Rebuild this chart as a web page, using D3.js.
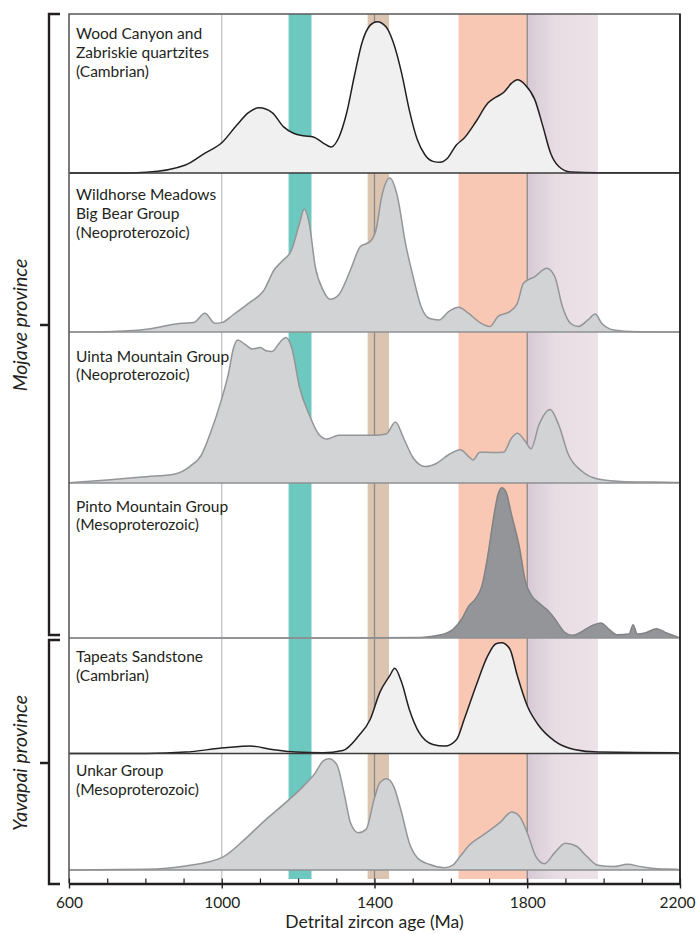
<!DOCTYPE html>
<html>
<head>
<meta charset="utf-8">
<script src="https://cdn.jsdelivr.net/npm/d3@7"></script>
<style>
  body { margin: 0; background: #fff; }
  svg text { font-family: Lato, "Open Sans", sans-serif; fill: #231f20; }
</style>
</head>
<body>
<div id="chart"></div>
<script>
// age axis ticks (Ma)
const majorTicks = [600, 1000, 1400, 1800, 2200];
const minorTicks = [600, 700, 800, 900, 1000, 1100, 1200, 1300, 1400, 1500, 1600, 1700, 1800, 1900, 2000, 2100, 2200];

// shaded age ranges (Ma)
const bandAges = [[1175, 1235], [1382, 1438], [1620, 1800], [1800, 1985]];
const refLines = [1000, 1400, 1800];

const panelLabels = [
  ["Wood Canyon and", "Zabriskie quartzites", "(Cambrian)"],
  ["Wildhorse Meadows", "Big Bear Group", "(Neoproterozoic)"],
  ["Uinta Mountain Group", "(Neoproterozoic)"],
  ["Pinto Mountain Group", "(Mesoproterozoic)"],
  ["Tapeats Sandstone", "(Cambrian)"],
  ["Unkar Group", "(Mesoproterozoic)"]
];

const provinces = ["Mojave province", "Yavapai province"];

// relative probability, [age Ma, value 0-100]
const woodCanyon = [[600,0],[750,0],[803,0.4],[905,5],[956,12.5],[1000,19],[1039,30],[1070,38],[1098,41],[1132,38],[1162,29],[1188,25],[1214,23.4],[1240,22.6],[1265,19],[1286,16.3],[1306,22],[1327,37.7],[1347,60.7],[1368,82.6],[1389,93],[1407,95.2],[1430,92],[1450,81.6],[1471,62.8],[1491,39.7],[1512,21],[1532,11.5],[1553,7.3],[1572,6.7],[1589,8.8],[1615,17.8],[1635,22],[1666,32.4],[1697,44],[1718,47.7],[1738,50.6],[1759,56.5],[1774,58.6],[1795,55.4],[1820,46],[1841,29.3],[1861,12.6],[1882,4.2],[1913,0.6],[1985,0.2],[2190,0.2],[2200,0]];

const wildhorse = [[600,0],[700,0.2],[803,1.7],[864,4.4],[895,5.5],[926,5.9],[956,11.8],[982,5.5],[1000,5.9],[1029,10.7],[1070,18],[1111,26.5],[1137,39],[1157,44.3],[1183,51.7],[1204,68.5],[1216,77.3],[1229,68.5],[1245,41],[1265,26.5],[1284,20.6],[1306,23.3],[1337,39],[1363,53.8],[1389,57],[1404,64.3],[1419,85.3],[1440,96.8],[1460,85.3],[1481,55.9],[1501,34.9],[1522,16],[1543,8.6],[1569,7.6],[1594,12.8],[1620,15.5],[1646,11.8],[1676,5.9],[1702,3.4],[1723,9.7],[1754,12.8],[1774,18],[1790,30.7],[1820,34.9],[1851,40.1],[1872,34.9],[1892,16],[1913,5.5],[1933,3.4],[1959,7.6],[1978,11.3],[1995,5.5],[2026,1.3],[2088,0.2],[2200,0]];

const uinta = [[600,0.2],[700,2],[803,4.2],[875,5.8],[916,10.9],[947,18.7],[972,34.2],[998,54.2],[1019,74.2],[1029,87.6],[1042,94.7],[1060,92],[1080,88.7],[1101,89.8],[1116,87.6],[1132,87.1],[1152,93.1],[1168,96.4],[1183,89.8],[1204,63.1],[1229,45.3],[1255,32],[1276,29.1],[1306,31.6],[1347,31.6],[1399,31.6],[1430,32.4],[1455,40.4],[1476,29.8],[1502,16.4],[1533,10.9],[1563,13.1],[1594,18.7],[1625,22],[1646,17.6],[1658,15.3],[1676,20.4],[1707,20.2],[1738,20.4],[1759,29.8],[1774,32.9],[1795,27.6],[1810,22.7],[1831,38.7],[1860,48.7],[1882,38.7],[1908,18.7],[1944,7.6],[1985,2.7],[2057,0.9],[2191,0.4],[2200,0.3]];

const pinto = [[600,0],[1317,0],[1522,0.4],[1574,2.1],[1605,5.4],[1630,12.9],[1646,20.4],[1666,25.8],[1682,34.3],[1697,53.6],[1713,79.4],[1723,92.3],[1733,97],[1744,94.4],[1759,79.4],[1780,57.9],[1795,36.5],[1810,27.9],[1831,22.5],[1856,17.2],[1877,10.7],[1897,3.9],[1918,1.7],[1944,4.3],[1969,7.9],[1993,9.7],[2015,5.4],[2036,2.1],[2067,2.6],[2077,8.6],[2088,2.6],[2108,3.2],[2139,6],[2165,3.2],[2196,0.4],[2200,0]];

const tapeats = [[600,0],[803,0],[905,1.2],[1008,4.9],[1075,6.4],[1132,3.5],[1193,1.2],[1265,0.6],[1317,2.6],[1358,15.1],[1389,29.7],[1414,52.9],[1440,67.4],[1453,73.8],[1471,61.6],[1491,38.4],[1517,18],[1553,7.8],[1584,6.4],[1615,12.2],[1635,29.7],[1666,58.7],[1697,84.9],[1718,95],[1733,95.9],[1754,90.7],[1774,67.4],[1800,41.3],[1831,23.8],[1872,10.8],[1923,3.5],[1985,1.2],[2190,0.6],[2200,0]];

const unkar = [[600,0],[803,0.6],[905,3.4],[1000,10.6],[1060,26.3],[1111,42],[1162,56.3],[1214,72],[1245,83.4],[1265,93.4],[1281,95.4],[1301,90.6],[1322,63.4],[1337,40.6],[1358,32],[1378,34.9],[1399,60.6],[1414,74.9],[1432,78.3],[1450,72],[1471,49.1],[1491,23.4],[1512,10.6],[1543,4.9],[1584,2],[1604,4],[1625,12],[1646,20.6],[1687,30.6],[1728,40.6],[1759,49.7],[1779,46.3],[1800,32],[1822,12],[1845,5.4],[1872,14.9],[1900,22.9],[1928,20.6],[1955,12],[1985,4],[2026,2.9],[2062,4.9],[2098,2.9],[2139,1.1],[2190,0.6],[2200,0]];

const densities = [woodCanyon, wildhorse, uinta, pinto, tapeats, unkar];

// ---- layout ----
const W = 697, H = 934;
const plotLeft = 69, plotRight = 680, plotTop = 14, axisY = 883.5;
const panelEdges = [14, 173, 332, 483, 638, 753.5, 870];
const labelOffsets = [25.3, 27, 29.5, 28.5, 24, 22.5];
const lineGap = 18.8;

const fills   = ["#f0f0f0", "#d1d3d4", "#d1d3d4", "#939598", "#f0f0f0", "#d1d3d4"];
const strokes = ["#231f20", "#939598", "#939598", "#808285", "#231f20", "#939598"];
const bandColors = ["#6dc8c0", "#dcc5b0", "#f9c8b4", "url(#lavender)"];

const svg = d3.select("#chart").append("svg")
  .attr("width", W)
  .attr("height", H);

const defs = svg.append("defs");
const grad = defs.append("linearGradient")
  .attr("id", "lavender")
  .attr("x1", 0).attr("x2", 1).attr("y1", 0).attr("y2", 0);
grad.append("stop").attr("offset", 0).attr("stop-color", "#d6c9d5");
grad.append("stop").attr("offset", 0.4).attr("stop-color", "#e8dde3");
grad.append("stop").attr("offset", 1).attr("stop-color", "#ece2e7");

const x = d3.scaleLinear().domain([600, 2200]).range([plotLeft, plotRight]);

// bands
svg.append("g").selectAll("rect")
  .data(bandAges)
  .enter().append("rect")
  .attr("x", d => x(d[0]))
  .attr("y", plotTop)
  .attr("width", d => x(d[1]) - x(d[0]))
  .attr("height", 879 - plotTop)
  .attr("fill", (d, i) => bandColors[i]);

// reference lines
svg.append("g").selectAll("line")
  .data(refLines)
  .enter().append("line")
  .attr("x1", d => x(d)).attr("x2", d => x(d))
  .attr("y1", plotTop).attr("y2", axisY)
  .attr("stroke", (d, i) => ["#bcbec0", "#8a8a8a", "#8a8a8a"][i])
  .attr("stroke-width", (d, i) => i == 0 ? 1.2 : 1.3);

// panels
densities.forEach(function (data, i) {
  const y0 = panelEdges[i + 1], y1 = panelEdges[i];
  const y = d3.scaleLinear().domain([0, 100]).range([y0, y1]);

  const area = d3.area()
    .x(d => x(d[0]))
    .y0(y0)
    .y1(d => y(d[1]))
    .curve(d3.curveMonotoneX);
  const line = d3.line()
    .x(d => x(d[0]))
    .y(d => y(d[1]))
    .curve(d3.curveMonotoneX);

  const g = svg.append("g").attr("class", "panel");
  g.append("path")
    .attr("d", area(data))
    .attr("fill", fills[i]);
  g.append("path")
    .attr("d", line(data))
    .attr("fill", "none")
    .attr("stroke", strokes[i])
    .attr("stroke-width", 1.5)
    .attr("stroke-linejoin", "round");

  // baseline
  g.append("line")
    .attr("x1", plotLeft).attr("x2", plotRight)
    .attr("y1", y0).attr("y2", y0)
    .attr("stroke", i == 0 || i == 4 ? "#3a3a3a" : "#8f9093")
    .attr("stroke-width", 1.5);

  g.selectAll("text")
    .data(panelLabels[i])
    .enter().append("text")
    .attr("x", 76)
    .attr("y", (d, j) => y1 + labelOffsets[i] + j * lineGap)
    .attr("font-size", 15.5)
    .text(d => d);
});

// frame
svg.append("path")
  .attr("d", `M${plotLeft},${axisY}V${plotTop}H${plotRight}V${axisY}`)
  .attr("fill", "none")
  .attr("stroke", "#58595b")
  .attr("stroke-width", 1.6);
svg.append("line")
  .attr("x1", plotRight).attr("x2", plotRight)
  .attr("y1", plotTop).attr("y2", axisY)
  .attr("stroke", "#231f20").attr("stroke-width", 1.6);

// axis: minor ticks up, major ticks down with labels
svg.append("g")
  .attr("transform", `translate(0,${axisY})`)
  .call(d3.axisBottom(x).tickValues(minorTicks).tickSize(-5).tickSizeOuter(0).tickFormat(""))
  .call(g => g.selectAll("line").attr("stroke", "#231f20").attr("stroke-width", 1.2))
  .call(g => g.select(".domain").remove());

const axis = svg.append("g")
  .attr("transform", `translate(0,${axisY})`)
  .call(d3.axisBottom(x).tickValues(majorTicks).tickSize(5).tickSizeOuter(0).tickPadding(8).tickFormat(d3.format("d")));
axis.select(".domain").attr("stroke", "#231f20").attr("stroke-width", 2.5);
axis.selectAll("line").attr("stroke", "#231f20").attr("stroke-width", 1.4);
axis.selectAll("text")
  .attr("font-size", 15.5)
  .attr("font-family", "Lato, 'Open Sans', sans-serif")
  .attr("fill", "#231f20")
  .attr("dx", d => d == 2200 ? -3 : 0);

svg.append("text")
  .attr("x", (plotLeft + plotRight) / 2)
  .attr("y", 928)
  .attr("text-anchor", "middle")
  .attr("font-size", 17.5)
  .text("Detrital zircon age (Ma)");

// province brackets
const brackets = [[14, 635, 325], [640, 884, 763]];
brackets.forEach(function (b, i) {
  svg.append("path")
    .attr("d", `M60,${b[0]}H49V${b[1]}H60M40,${b[2]}H49`)
    .attr("fill", "none")
    .attr("stroke", "#231f20")
    .attr("stroke-width", 2.4);
  svg.append("text")
    .attr("transform", `translate(27,${b[2]}) rotate(-90)`)
    .attr("text-anchor", "middle")
    .attr("font-size", 19.5)
    .attr("font-style", "italic")
    .text(provinces[i]);
});
</script>
</body>
</html>
